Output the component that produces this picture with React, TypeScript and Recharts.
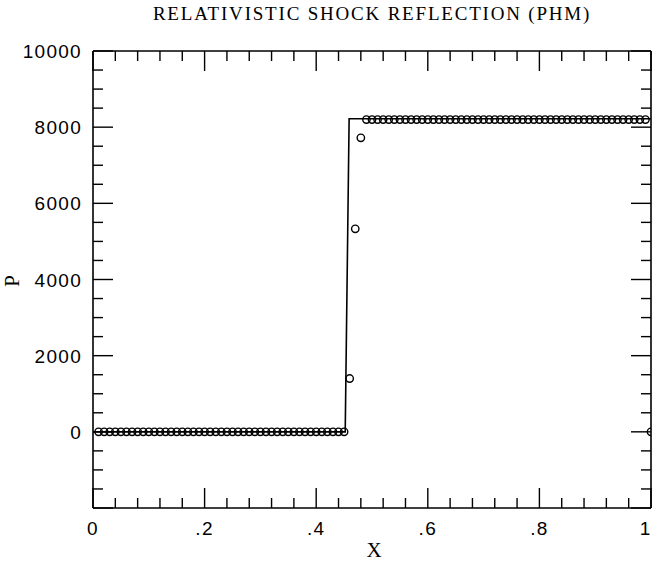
import React from "react";
import { ComposedChart, Line, Scatter, XAxis, YAxis } from "recharts";

// Cell positions (x) and numerical pressure values (circles)
const cellX = [
  0.01, 0.02, 0.03, 0.04, 0.05, 0.06, 0.07, 0.08, 0.09, 0.1,
  0.11, 0.12, 0.13, 0.14, 0.15, 0.16, 0.17, 0.18, 0.19, 0.2,
  0.21, 0.22, 0.23, 0.24, 0.25, 0.26, 0.27, 0.28, 0.29, 0.3,
  0.31, 0.32, 0.33, 0.34, 0.35, 0.36, 0.37, 0.38, 0.39, 0.4,
  0.41, 0.42, 0.43, 0.44, 0.45, 0.46, 0.47, 0.48, 0.49, 0.5,
  0.51, 0.52, 0.53, 0.54, 0.55, 0.56, 0.57, 0.58, 0.59, 0.6,
  0.61, 0.62, 0.63, 0.64, 0.65, 0.66, 0.67, 0.68, 0.69, 0.7,
  0.71, 0.72, 0.73, 0.74, 0.75, 0.76, 0.77, 0.78, 0.79, 0.8,
  0.81, 0.82, 0.83, 0.84, 0.85, 0.86, 0.87, 0.88, 0.89, 0.9,
  0.91, 0.92, 0.93, 0.94, 0.95, 0.96, 0.97, 0.98, 0.99, 1.0,
];
const cellP = [
  0, 0, 0, 0, 0, 0, 0, 0, 0, 0,
  0, 0, 0, 0, 0, 0, 0, 0, 0, 0,
  0, 0, 0, 0, 0, 0, 0, 0, 0, 0,
  0, 0, 0, 0, 0, 0, 0, 0, 0, 0,
  0, 0, 0, 0, 0, 1400, 5330, 7720, 8200, 8200,
  8200, 8200, 8200, 8200, 8200, 8200, 8200, 8200, 8200, 8200,
  8200, 8200, 8200, 8200, 8200, 8200, 8200, 8200, 8200, 8200,
  8200, 8200, 8200, 8200, 8200, 8200, 8200, 8200, 8200, 8200,
  8200, 8200, 8200, 8200, 8200, 8200, 8200, 8200, 8200, 8200,
  8200, 8200, 8200, 8200, 8200, 8200, 8200, 8200, 8200, 0,
];

// Exact solution (solid line)
const exactX = [0, 0.452, 0.459, 1];
const exactP = [0, 0, 8220, 8220];

// Axis ticks and labels
const xTicks = [
  0, 0.04, 0.08, 0.12, 0.16, 0.2, 0.24, 0.28, 0.32, 0.36, 0.4, 0.44, 0.48,
  0.52, 0.56, 0.6, 0.64, 0.68, 0.72, 0.76, 0.8, 0.84, 0.88, 0.92, 0.96, 1,
];
const xTickLabels = [
  "0", "", "", "", "", ".2", "", "", "", "", ".4", "", "", "",
  "", ".6", "", "", "", "", ".8", "", "", "", "", "1",
];
const yTicks = [
  -2000, -1500, -1000, -500, 0, 500, 1000, 1500, 2000, 2500, 3000, 3500, 4000,
  4500, 5000, 5500, 6000, 6500, 7000, 7500, 8000, 8500, 9000, 9500, 10000,
];
const yTickLabels = [
  "", "", "", "", "0", "", "", "", "2000", "", "", "", "4000",
  "", "", "", "6000", "", "", "", "8000", "", "", "", "10000",
];

const titleText = "RELATIVISTIC SHOCK REFLECTION (PHM)";
const xLabel = "X";
const yLabel = "P";

const cells = cellX.map((x, i) => ({ x, p: cellP[i] }));
const exact = exactX.map((x, i) => ({ x, p: exactP[i] }));

const TICK_FONT = "Liberation Sans";
const MAJOR = 20;
const MINOR = 10;

const xIdx = (p: any) => {
  const i = xTicks.findIndex((t) => Math.abs(t - p.payload.value) < 1e-9);
  return i >= 0 ? i : p.index;
};
const yIdx = (p: any) => {
  const i = yTicks.findIndex((t) => Math.abs(t - p.payload.value) < 1e-6);
  return i >= 0 ? i : p.index;
};

const BottomTick = (p: any) => {
  const i = xIdx(p);
  const major = i % 5 === 0;
  const last = i === xTicks.length - 1;
  return (
    <g>
      <line x1={p.x} x2={p.x} y1={p.y} y2={p.y - (major ? MAJOR : MINOR)} stroke="#000" strokeWidth={1.4} />
      <text
        x={last ? p.x - 6 : p.x}
        y={p.y + 27}
        textAnchor="middle"
        fontFamily={TICK_FONT}
        fontSize={19}
        letterSpacing={last ? 0 : 1.3}
        fill="#000"
      >
        {xTickLabels[i]}
      </text>
    </g>
  );
};

const TopTick = (p: any) => {
  const i = xIdx(p);
  const major = i % 5 === 0;
  return (
    <line x1={p.x} x2={p.x} y1={p.y} y2={p.y + (major ? MAJOR : MINOR)} stroke="#000" strokeWidth={1.4} />
  );
};

const LeftTick = (p: any) => {
  const i = yIdx(p);
  const major = i % 4 === 0;
  return (
    <g>
      <line x1={p.x} x2={p.x + (major ? MAJOR : MINOR)} y1={p.y} y2={p.y} stroke="#000" strokeWidth={1.4} />
      <text x={p.x - 11} y={p.y + 7} textAnchor="end" fontFamily={TICK_FONT} fontSize={19} letterSpacing={1.3} fill="#000">
        {yTickLabels[i]}
      </text>
    </g>
  );
};

const RightTick = (p: any) => {
  const i = yIdx(p);
  const major = i % 4 === 0;
  return (
    <line x1={p.x} x2={p.x - (major ? MAJOR : MINOR)} y1={p.y} y2={p.y} stroke="#000" strokeWidth={1.4} />
  );
};

const Ring = (p: any) => (
  <circle cx={p.cx} cy={p.cy} r={3.7} fill="none" stroke="#000" strokeWidth={1.4} />
);

const axisLine = { stroke: "#000", strokeWidth: 1.6 };

export default function App() {
  return (
    <div style={{ position: "absolute", left: 0, top: 0, width: 652, height: 563, background: "#fff" }}>
      <ComposedChart width={652} height={563} margin={{ top: 0, right: 0, bottom: 0, left: 0 }}>
        <XAxis
          xAxisId="b"
          type="number"
          dataKey="x"
          domain={[0, 1]}
          ticks={xTicks}
          interval={0}
          orientation="bottom"
          height={55}
          tickSize={0}
          tickMargin={0}
          tickLine={false}
          axisLine={axisLine}
          tick={(p: any) => <BottomTick {...p} />}
          allowDataOverflow
        />
        <XAxis
          xAxisId="t"
          type="number"
          dataKey="x"
          domain={[0, 1]}
          ticks={xTicks}
          interval={0}
          orientation="top"
          height={51}
          tickSize={0}
          tickMargin={0}
          tickLine={false}
          axisLine={axisLine}
          tick={(p: any) => <TopTick {...p} />}
          allowDataOverflow
        />
        <YAxis
          yAxisId="l"
          type="number"
          dataKey="p"
          domain={[-2000, 10000]}
          ticks={yTicks}
          interval={0}
          orientation="left"
          width={93}
          tickSize={0}
          tickMargin={0}
          tickLine={false}
          axisLine={axisLine}
          tick={(p: any) => <LeftTick {...p} />}
          allowDataOverflow
        />
        <YAxis
          yAxisId="r"
          type="number"
          dataKey="p"
          domain={[-2000, 10000]}
          ticks={yTicks}
          interval={0}
          orientation="right"
          width={1}
          tickSize={0}
          tickMargin={0}
          tickLine={false}
          axisLine={axisLine}
          tick={(p: any) => <RightTick {...p} />}
          allowDataOverflow
        />
        <Line
          xAxisId="b"
          yAxisId="l"
          data={exact}
          dataKey="p"
          type="linear"
          dot={false}
          stroke="#000"
          strokeWidth={1.6}
          isAnimationActive={false}
        />
        <Scatter
          xAxisId="b"
          yAxisId="l"
          data={cells}
          dataKey="p"
          shape={(p: any) => <Ring {...p} />}
          isAnimationActive={false}
        />
      </ComposedChart>
      <svg
        width={652}
        height={563}
        style={{ position: "absolute", left: 0, top: 0, pointerEvents: "none" }}
      >
        <text x={372} y={20} textAnchor="middle" fontFamily="Liberation Serif" fontSize={19} letterSpacing={1.8} fill="#000">
          {titleText}
        </text>
        <text x={374} y={557} textAnchor="middle" fontFamily="Liberation Serif" fontSize={21} fill="#000">
          {xLabel}
        </text>
        <text transform="translate(19,281) rotate(-90)" textAnchor="middle" fontFamily="Liberation Serif" fontSize={21} fill="#000">
          {yLabel}
        </text>
      </svg>
    </div>
  );
}
